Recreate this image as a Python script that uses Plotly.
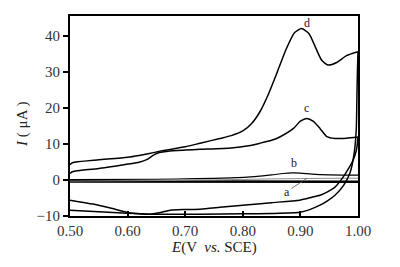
import plotly.graph_objects as go

# ---- data (E in V vs. SCE, I in uA) ----
d_fwd_E = [0.500, 0.503, 0.51, 0.55, 0.60, 0.62, 0.64, 0.656, 0.70, 0.726, 0.76, 0.78, 0.80, 0.815, 0.83, 0.845, 0.86, 0.875, 0.89, 0.902, 0.915, 0.927, 0.937, 0.948, 0.963, 0.980, 1.000]
d_fwd_I = [4.2, 4.7, 5.0, 5.6, 6.3, 6.8, 7.4, 8.0, 9.2, 10.2, 11.5, 12.3, 13.6, 15.6, 19.0, 24.0, 30.0, 36.2, 40.9, 42.0, 40.6, 36.5, 33.2, 31.9, 32.6, 34.5, 35.6]

d_rev_E = [1.000, 0.999, 0.998, 0.997, 0.993, 0.986, 0.975, 0.960, 0.947, 0.934, 0.915, 0.899, 0.85, 0.80, 0.726, 0.68, 0.639, 0.60, 0.55, 0.50]
d_rev_I = [35.6, 30.0, 22.0, 14.0, 7.0, 1.9, -1.5, -4.25, -5.8, -7.0, -8.3, -8.97, -9.3, -9.4, -9.5, -9.5, -9.5, -9.25, -8.8, -8.4]

c_fwd_E = [0.500, 0.503, 0.51, 0.55, 0.60, 0.62, 0.635, 0.645, 0.655, 0.67, 0.70, 0.726, 0.78, 0.81, 0.83, 0.85, 0.865, 0.888, 0.900, 0.911, 0.922, 0.934, 0.946, 0.960, 0.980, 1.000]
c_fwd_I = [1.8, 2.2, 2.5, 3.2, 4.4, 4.9, 5.8, 6.9, 7.6, 8.0, 8.3, 8.5, 8.9, 9.5, 10.2, 11.0, 12.0, 14.3, 16.3, 17.05, 16.3, 14.3, 12.0, 11.5, 11.6, 11.9]

c_rev_E = [1.000, 0.998, 0.995, 0.990, 0.984, 0.975, 0.960, 0.947, 0.934, 0.920, 0.899, 0.85, 0.80, 0.76, 0.726, 0.70, 0.674, 0.655, 0.639, 0.613, 0.599, 0.57, 0.54, 0.50]
c_rev_I = [11.9, 9.0, 7.0, 5.0, 3.3, 1.0, -2.0, -3.3, -4.25, -4.8, -5.6, -6.3, -7.0, -7.6, -8.1, -8.2, -8.4, -9.1, -9.5, -9.3, -9.0, -7.8, -6.7, -5.6]

b_fwd_E = [0.50, 0.65, 0.72, 0.78, 0.82, 0.85, 0.87, 0.885, 0.90, 0.92, 0.95, 1.00]
b_fwd_I = [0.1, 0.2, 0.35, 0.6, 0.95, 1.4, 1.8, 1.95, 1.9, 1.6, 1.4, 1.35]

a_fwd_E = [0.50, 0.70, 0.80, 0.85, 0.95, 1.00]
a_fwd_I = [-0.3, -0.1, 0.15, 0.3, 0.45, 0.5]

ab_rev_E = [0.50, 1.00]
ab_rev_I = [-0.4, -0.5]

x_ticks = [0.50, 0.60, 0.70, 0.80, 0.90, 1.00]
y_ticks = [-10, 0, 10, 20, 30, 40]

FONT = "Liberation Serif"

fig = go.Figure()

def add(xs, ys, width=1.5, color="black", shape="spline"):
    fig.add_trace(go.Scatter(x=xs, y=ys, mode="lines",
                             line=dict(color=color, width=width, shape=shape, smoothing=0.6),
                             showlegend=False, hoverinfo="skip"))

add(ab_rev_E, ab_rev_I, width=2.6, shape="linear")
add(a_fwd_E, a_fwd_I, width=1.0, color="#8a8a8a")
add(b_fwd_E, b_fwd_I, width=1.2)
add(c_rev_E, c_rev_I)
add(d_rev_E, d_rev_I)
add(c_fwd_E, c_fwd_I)
add(d_fwd_E, d_fwd_I)

lab_font = dict(family=FONT, size=12, color="#222")
fig.add_annotation(x=0.911, y=43.6, text="d", showarrow=False, font=lab_font)
fig.add_annotation(x=0.911, y=20.0, text="c", showarrow=False, font=lab_font)
fig.add_annotation(x=0.889, y=4.8, text="b", showarrow=False, font=lab_font)
fig.add_annotation(x=0.911, y=0.4, ax=0.882, ay=-2.6, axref="x", ayref="y",
                   text="", showarrow=True, arrowhead=0, arrowwidth=0.8, arrowcolor="#555")
fig.add_annotation(x=0.876, y=-3.4, text="a", showarrow=False, font=lab_font)

# axis titles
fig.add_annotation(xref="paper", yref="paper", x=0.5, y=-0.155, xanchor="center", yanchor="middle",
                   text="<i>E</i>(V  <i>vs.</i> SCE)", showarrow=False,
                   font=dict(family=FONT, size=15, color="#222"))
fig.add_annotation(xref="paper", yref="paper", x=-0.167, y=0.46, xanchor="center", yanchor="middle",
                   text="<i>I</i> ( μA )", textangle=-90, showarrow=False,
                   font=dict(family=FONT, size=15, color="#222"))

fig.update_xaxes(range=[0.5, 1.0], tickvals=x_ticks, ticktext=[f"{v:.2f}" for v in x_ticks],
                 ticks="inside", ticklen=5, tickwidth=1.5, tickcolor="black",
                 showline=True, linecolor="black", linewidth=2, mirror=True,
                 showgrid=False, zeroline=False, automargin=False,
                 tickfont=dict(family=FONT, size=15, color="#333"))
fig.update_yaxes(range=[-10, 45.5], tickvals=y_ticks,
                 ticks="outside", ticklen=5, tickwidth=1.5, tickcolor="black",
                 showline=True, linecolor="black", linewidth=2, mirror=True,
                 showgrid=False, zeroline=False, automargin=False,
                 tickfont=dict(family=FONT, size=15, color="#333"))

# page body has an 8px margin, so the figure is offset by (8, 8)
fig.update_layout(width=392, height=259, margin=dict(l=62, r=42, t=8, b=51),
                  paper_bgcolor="white", plot_bgcolor="white")

fig.write_html("out.html")
